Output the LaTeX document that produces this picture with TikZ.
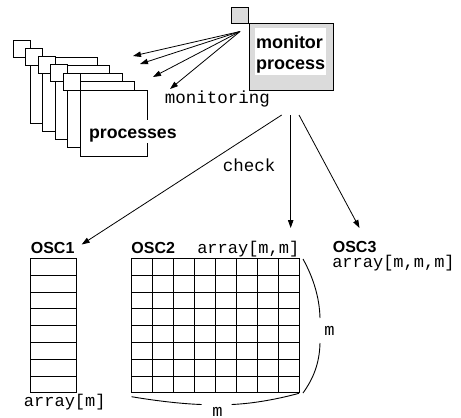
\documentclass[tikz,border=0pt]{standalone}
\usepackage{fontspec}
\setsansfont{Liberation Sans}
\setmonofont{Liberation Mono}
\usetikzlibrary{arrows.meta}
\begin{document}
\begin{tikzpicture}[x=1pt, y=-1pt, line width=0.9pt,
  title/.style={font=\fontsize{16}{19}\selectfont\sffamily\bfseries, inner sep=0pt, anchor=base west},
  code/.style={font=\fontsize{17}{20}\selectfont\ttfamily, inner sep=0pt, anchor=base west},
  arr/.style={-{Triangle[length=8pt,width=5.5pt]}, line width=0.8pt},
  card/.style={draw, fill=white},
  cell/.style={line width=0.8pt},
  greybox/.style={draw, fill=black!14}]
\useasboundingbox (0,0) rectangle (461,418);

% stack of process cards, back to front
\foreach \i in {0,...,4} {
  \pgfmathsetmacro\dx{12.5*\i}
  \pgfmathsetmacro\dy{8.3*\i}
  \draw[card] (13+\dx,40+\dy) rectangle ++(17,17);
  \draw[card] (30+\dx,57+\dy) rectangle ++(67,66);
}
\node[font=\fontsize{17.7}{21}\selectfont\sffamily\bfseries, fill=white,
      inner xsep=2pt, inner ysep=0.5pt, text height=18pt, text depth=4pt,
      anchor=base] (procs) at (132.9,138.3) {processes};

% monitor process
\draw[greybox] (231,7) rectangle (248.7,23);
\node[greybox, anchor=north west, minimum width=84pt, minimum height=67pt,
      inner sep=0pt] (mon) at (248.7,23) {};
\node[fill=white, minimum width=71pt, minimum height=46.7pt, inner sep=0pt,
      text width=69pt, align=left,
      font=\fontsize{18}{21}\selectfont\sffamily\bfseries] (montext) at (290.5,51.7)
      {\rule{0pt}{18pt}monitor\\process};

% monitoring arrows
\coordinate (fan) at (240,31.5);
\coordinate (t1) at (133,56);
\coordinate (t2) at (140,64);
\coordinate (t3) at (153,77);
\coordinate (t4) at (170,89);
\foreach \t in {t1,t2,t3,t4} \draw[arr] (fan) -- (\t);
\node[code, font=\fontsize{17.5}{20}\selectfont\ttfamily] (monitoring) at (164.5,103.3) {monitoring};

% check arrows
\coordinate (s1) at (281.7,115);
\coordinate (s2) at (290.7,115);
\coordinate (s3) at (299,115);
\coordinate (e1) at (81.7,244.5);
\coordinate (e2) at (290.7,228);
\coordinate (e3) at (359.5,228);
\draw[arr] (s1) -- (e1);
\draw[arr] (s2) -- (e2);
\draw[arr] (s3) -- (e3);
\node[code, font=\fontsize{17.5}{20}\selectfont\ttfamily] (check) at (222.5,171.5) {check};

% OSC1: one-dimensional array
\node[title] (osc1) at (30.4,253.3) {OSC1};
\foreach \k in {0,...,8} \draw[cell] (30,258.3+16.8*\k) -- (76.7,258.3+16.8*\k);
\draw[cell] (30,258.3) -- (30,392.7);
\draw[cell] (76.7,258.3) -- (76.7,392.7);
\node[code] (arr1) at (23.5,406) {array[m]};

% OSC2: two-dimensional array
\node[title] (osc2) at (131,253.3) {OSC2};
\node[code] (arr2) at (196.8,253.3) {array[m,m]};
\foreach \k in {0,...,8} {
  \draw[cell] (131,258.3+16.8*\k) -- (299.3,258.3+16.8*\k);
  \draw[cell] (131+21.04*\k,258.3) -- (131+21.04*\k,392.7);
}
% size braces
\draw (303,259) .. controls (313,277) and (319.5,297) .. (320,318);
\draw (320,343) .. controls (319.5,364) and (313,379) .. (303,393);
\node[code, anchor=base] (mright) at (329.5,335) {m};
\draw (131.5,396.7) .. controls (160,401.5) and (185,404) .. (201.7,404.5);
\draw (231.7,404.5) .. controls (255,403.5) and (280,398.5) .. (299,393.3);
\node[code, anchor=base] (mbottom) at (217.5,416.5) {m};

% OSC3: three-dimensional array
\node[title] (osc3) at (332.4,252.3) {OSC3};
\node[code] (arr3) at (331.8,267) {array[m,m,m]};
\end{tikzpicture}
\end{document}
